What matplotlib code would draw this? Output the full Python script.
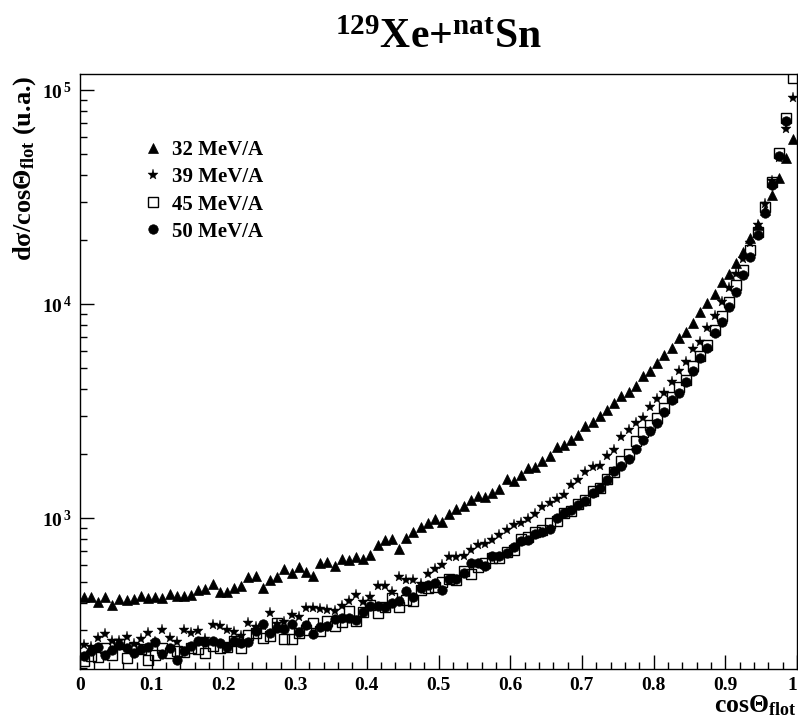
import numpy as np
import matplotlib
matplotlib.use("Agg")
import matplotlib.pyplot as plt
from matplotlib.lines import Line2D
from matplotlib.ticker import FixedLocator, FuncFormatter, NullFormatter

plt.rcParams['font.family'] = ['Liberation Serif', 'DejaVu Serif']
plt.rcParams['font.weight'] = 'bold'
plt.rcParams['mathtext.fontset'] = 'custom'
plt.rcParams['mathtext.rm'] = 'Liberation Serif:bold'
plt.rcParams['mathtext.it'] = 'Liberation Serif:bold'
plt.rcParams['mathtext.bf'] = 'Liberation Serif:bold'
plt.rcParams['mathtext.default'] = 'rm'

# ---- data ----
bin_edges = np.linspace(0.0, 1.0, 101)
cos_theta = 0.5 * (bin_edges[:-1] + bin_edges[1:])

labels = ["32 MeV/A", "39 MeV/A", "45 MeV/A", "50 MeV/A"]

e32 = [428, 428, 404, 428, 391, 419, 412, 420, 430, 425,
       426, 421, 443, 434, 434, 438, 459, 466, 492, 451,
       451, 471, 483, 530, 535, 473, 515, 532, 580, 555,
       593, 561, 538, 619, 625, 599, 646, 639, 660, 646,
       674, 751, 792, 800, 719, 809, 863, 911, 951, 992,
       961, 1047, 1102, 1141, 1208, 1261, 1253, 1308, 1370, 1521,
       1482, 1593, 1712, 1730, 1852, 1939, 2136, 2199, 2313, 2441,
       2677, 2795, 3003, 3180, 3465, 3724, 3900, 4160, 4617, 4888,
       5326, 5786, 6218, 6924, 7433, 8188, 9167, 10090, 11180, 12620,
       13870, 15610, 17570, 20290, 23410, 27500, 32310, 38660, 48260, 58800]

e39 = [256, 249, 275, 288, 265, 267, 278, 258, 273, 290,
       263, 299, 275, 263, 299, 290, 295, 273, 316, 313,
       301, 292, 280, 322, 310, 314, 360, 318, 327, 354,
       346, 380, 378, 376, 373, 366, 387, 408, 438, 404,
       428, 483, 483, 449, 530, 511, 511, 494, 550, 578,
       605, 655, 655, 667, 711, 745, 759, 792, 836, 882,
       931, 951, 992, 1047, 1129, 1179, 1231, 1285, 1430, 1509,
       1645, 1736, 1755, 1954, 2073, 2389, 2584, 2777, 2949, 3319,
       3594, 3833, 4343, 4888, 5384, 6152, 6676, 7710, 8772, 10170,
       11850, 13820, 16190, 19230, 23410, 29330, 37560, 48100, 65490, 91370]

e45 = [214, 226, 224, 247, 230, 259, 222, 247, 243, 218,
       228, 247, 234, 240, 236, 247, 243, 234, 253, 247,
       250, 265, 247, 283, 290, 275, 281, 322, 272, 271,
       289, 301, 323, 296, 329, 313, 328, 368, 329, 364,
       394, 358, 382, 425, 385, 416, 411, 463, 473, 478,
       504, 521, 515, 568, 550, 593, 619, 650, 650, 696,
       711, 798, 818, 863, 882, 948, 964, 1059, 1074, 1166,
       1217, 1341, 1385, 1526, 1645, 1852, 1996, 2279, 2510, 2727,
       2930, 3263, 3696, 4115, 4423, 5141, 5724, 6443, 7570, 8800,
       10260, 12280, 14430, 17890, 21780, 28310, 37280, 50590, 73700, 113300]

e50 = [226, 238, 249, 228, 241, 256, 247, 234, 243, 249,
       263, 232, 247, 218, 238, 252, 267, 263, 267, 261,
       250, 265, 261, 264, 296, 321, 290, 307, 303, 318,
       294, 315, 288, 309, 314, 339, 340, 340, 335, 362,
       387, 387, 385, 401, 408, 454, 428, 471, 488, 496,
       460, 521, 521, 554, 617, 617, 599, 662, 667, 686,
       732, 778, 792, 845, 857, 888, 1000, 1055, 1093, 1154,
       1196, 1308, 1380, 1509, 1650, 1755, 1892, 2106, 2320, 2556,
       2786, 3135, 3567, 3846, 4329, 4872, 5603, 6238, 7330, 8277,
       9664, 11430, 13670, 16650, 21020, 26540, 35980, 49140, 71840, 130000]

x_ticks = [0.0, 0.1, 0.2, 0.3, 0.4, 0.5, 0.6, 0.7, 0.8, 0.9, 1.0]
x_ticklabels = ["0", "0.1", "0.2", "0.3", "0.4", "0.5", "0.6", "0.7", "0.8", "0.9", "1"]

# ---- figure ----
fig = plt.figure(figsize=(7.98, 7.21), dpi=100)
ax = fig.add_axes([80 / 798, 52 / 721, 717 / 798, 595 / 721])

styles = [
    dict(marker='^', ms=7.0, mfc='black', mec='black', mew=0.5),
    dict(marker='*', ms=8.0, mfc='black', mec='black', mew=0.3),
    dict(marker='s', ms=6.5, mfc='none', mec='black', mew=1.0),
    dict(marker='o', ms=6.8, mfc='black', mec='black', mew=0.5),
]
series = [e32, e39, e45, e50]
for vals, st in zip(series, styles):
    ax.plot(cos_theta, vals, linestyle='none', **st)

ax.set_yscale('log')
ax.set_xlim(0.0, 1.0)
ax.set_ylim(197, 118800)

# x ticks
ax.xaxis.set_major_locator(FixedLocator(x_ticks))
ax.set_xticklabels(x_ticklabels)
ax.xaxis.set_minor_locator(FixedLocator(np.arange(0.0, 1.0001, 0.02)))

# y ticks
ax.yaxis.set_major_locator(FixedLocator([1e3, 1e4, 1e5]))
ax.yaxis.set_major_formatter(FuncFormatter(lambda v, p: r'$10^{\,%d}$' % int(round(np.log10(v)))))
minors = []
for dec in [100, 1000, 10000]:
    for m in range(2, 10):
        minors.append(m * dec)
ax.yaxis.set_minor_locator(FixedLocator([v for v in minors if 197 <= v <= 118800]))
ax.yaxis.set_minor_formatter(NullFormatter())

ax.tick_params(axis='both', which='major', direction='in', length=10, width=1.0,
               labelsize=14, top=False, right=False)
ax.tick_params(axis='both', which='minor', direction='in', length=5, width=1.0,
               top=False, right=False)
ax.tick_params(axis='x', which='major', pad=6)
ax.tick_params(axis='y', which='major', pad=6)
xlabs = ax.get_xticklabels()
for lab in xlabs + ax.get_yticklabels():
    lab.set_fontweight('bold')
xlabs[-1].set_horizontalalignment('right')
for sp in ax.spines.values():
    sp.set_linewidth(1.0)

# legend
handles = [Line2D([], [], linestyle='none', **st) for st in styles]
leg = ax.legend(handles, labels, loc='upper left', bbox_to_anchor=(0.061, 0.92),
                frameon=False, handlelength=1.0, handletextpad=0.4,
                labelspacing=0.34, prop=dict(family='Liberation Serif', weight='bold', size=15))

# titles / labels
fig.text(0.549, 1 - 48 / 721, r'${}^{129}$Xe+${}^{nat}$Sn', ha='center', va='baseline',
         fontsize=30, fontweight='bold', family='Liberation Serif')
fig.text(25 / 798, 1 - 75 / 721, r'd$\sigma$/cos$\Theta_{flot}$ (u.a.)', rotation=90,
         ha='center', va='top', fontsize=19, fontweight='bold', family='Liberation Serif')
fig.text(797 / 798, 1 - 712 / 721, r'cos$\Theta_{flot}$', ha='right', va='baseline',
         fontsize=18.5, fontweight='bold', family='Liberation Serif')

fig.savefig('out.png', dpi=100)
